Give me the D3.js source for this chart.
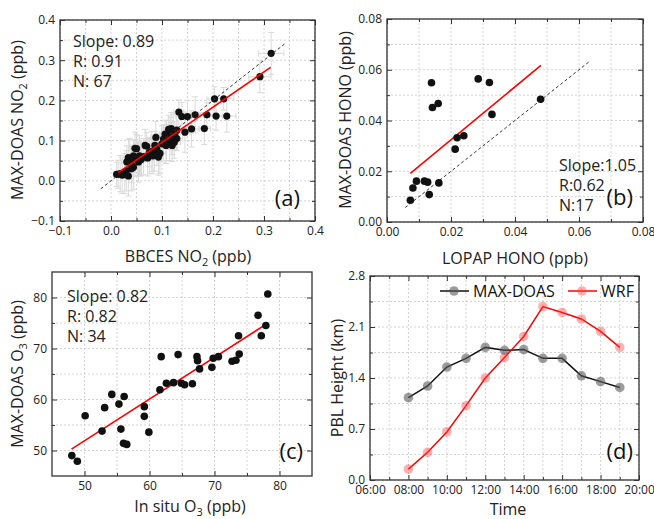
<!DOCTYPE html>
<html>
<head>
<meta charset="utf-8">
<script src="https://cdn.jsdelivr.net/npm/d3@7"></script>
<style>
  body { margin: 0; background: #fff; }
  svg { font-family: "Open Sans", "Noto Sans", sans-serif; }
</style>
</head>
<body>
<script>
// (a) BBCES vs MAX-DOAS NO2
const no2X = [0.314, 0.292, 0.203, 0.221, 0.227, 0.206, 0.188, 0.165, 0.150, 0.139, 0.133, 0.158, 0.183, 0.145,
  0.129, 0.122, 0.116, 0.112, 0.119, 0.109, 0.125, 0.115, 0.129, 0.120, 0.108, 0.103, 0.088, 0.096, 0.093, 0.086,
  0.076, 0.067, 0.070, 0.080, 0.085, 0.072, 0.060, 0.054, 0.050, 0.047, 0.047, 0.044, 0.037, 0.034, 0.031, 0.044,
  0.040, 0.027, 0.018, 0.014, 0.011, 0.034, 0.022, 0.058, 0.064, 0.075, 0.090, 0.100, 0.113, 0.118, 0.056, 0.052,
  0.040, 0.030, 0.124, 0.106, 0.082]
const no2Y = [0.317, 0.259, 0.204, 0.204, 0.161, 0.161, 0.164, 0.164, 0.160, 0.160, 0.171, 0.129, 0.130, 0.121,
  0.126, 0.121, 0.118, 0.109, 0.105, 0.100, 0.113, 0.095, 0.105, 0.088, 0.088, 0.104, 0.108, 0.068, 0.059, 0.088,
  0.063, 0.088, 0.086, 0.073, 0.064, 0.057, 0.055, 0.047, 0.080, 0.081, 0.055, 0.062, 0.055, 0.058, 0.047, 0.034,
  0.040, 0.018, 0.018, 0.016, 0.016, 0.012, 0.014, 0.052, 0.060, 0.070, 0.078, 0.092, 0.128, 0.130, 0.062, 0.058,
  0.030, 0.025, 0.096, 0.116, 0.062]
const no2XErr = [0.025, 0.022, 0.015, 0.020, 0.018, 0.012, 0.015, 0.010, 0.014, 0.012, 0.010, 0.016, 0.012, 0.010,
  0.012, 0.014, 0.010, 0.012, 0.010, 0.012, 0.008, 0.010, 0.012, 0.010, 0.008, 0.012, 0.010, 0.012, 0.010, 0.008,
  0.010, 0.012, 0.008, 0.010, 0.012, 0.010, 0.008, 0.010, 0.008, 0.010, 0.012, 0.008, 0.010, 0.008, 0.010, 0.008,
  0.010, 0.008, 0.010, 0.008, 0.006, 0.010, 0.008, 0.010, 0.008, 0.012, 0.010, 0.012, 0.014, 0.010, 0.008, 0.010,
  0.008, 0.010, 0.012, 0.010, 0.010]
const no2YErr = [0.052, 0.040, 0.030, 0.028, 0.040, 0.035, 0.030, 0.045, 0.040, 0.035, 0.030, 0.045, 0.040, 0.050,
  0.035, 0.045, 0.040, 0.030, 0.040, 0.050, 0.035, 0.045, 0.030, 0.040, 0.045, 0.035, 0.040, 0.050, 0.045, 0.035,
  0.045, 0.040, 0.035, 0.050, 0.040, 0.045, 0.040, 0.050, 0.035, 0.040, 0.045, 0.040, 0.050, 0.045, 0.040, 0.055,
  0.045, 0.050, 0.045, 0.035, 0.030, 0.050, 0.045, 0.040, 0.045, 0.035, 0.040, 0.045, 0.035, 0.040, 0.050, 0.045,
  0.055, 0.050, 0.040, 0.035, 0.045]
const no2Fit = { slope: 0.876, intercept: 0.008, from: 0.014, to: 0.313 }
const no2OneToOne = [-0.02, 0.34]
const no2Stats = ['Slope: 0.89', 'R: 0.91', 'N: 67']

// (b) LOPAP vs MAX-DOAS HONO
const honoX = [0.0073, 0.0081, 0.0092, 0.0117, 0.0127, 0.0132, 0.0162, 0.0139, 0.0142, 0.0160, 0.0213, 0.0219,
  0.0240, 0.0285, 0.0320, 0.0328, 0.0480]
const honoY = [0.0086, 0.0134, 0.0161, 0.0161, 0.0157, 0.0108, 0.0154, 0.0549, 0.0451, 0.0467, 0.0287, 0.0332,
  0.0340, 0.0564, 0.0550, 0.0424, 0.0484]
const honoFit = { slope: 1.044, intercept: 0.0115, from: 0.0073, to: 0.0481 }
const honoOneToOne = [0.0057, 0.063]
const honoStats = ['Slope:1.05', 'R:0.62', 'N:17']

// (c) in situ vs MAX-DOAS O3
const o3X = [48.05, 48.9, 50.1, 52.7, 53.1, 54.2, 55.3, 55.6, 56.1, 56.0, 56.5, 59.2, 59.2, 59.9, 61.6, 61.8, 62.6,
  63.7, 64.4, 64.9, 65.4, 66.6, 67.3, 67.4, 67.7, 69.6, 69.8, 70.6, 72.7, 73.3, 73.8, 73.7, 76.7, 77.2, 77.9, 78.2]
const o3Y = [49.0, 47.9, 56.8, 53.8, 58.4, 61.0, 59.1, 54.2, 60.6, 51.4, 51.2, 58.6, 56.7, 53.6, 61.9, 68.4, 63.2,
  63.3, 68.8, 63.2, 62.9, 63.1, 68.4, 67.6, 66.0, 66.3, 68.1, 68.4, 67.5, 67.7, 68.9, 72.5, 76.5, 72.5, 74.5, 80.7]
const o3Fit = { slope: 0.818, intercept: 11.0, from: 48.0, to: 78.2 }
const o3Stats = ['Slope: 0.82', 'R: 0.82', 'N: 34']

// (d) PBL height
const hours = [8, 9, 10, 11, 12, 13, 14, 15, 16, 17, 18, 19]
const pblMaxDoas = [1.13, 1.29, 1.55, 1.67, 1.82, 1.78, 1.79, 1.67, 1.67, 1.43, 1.35, 1.27]
const pblWrf = [0.15, 0.38, 0.66, 1.02, 1.40, 1.68, 1.97, 2.38, 2.30, 2.21, 2.04, 1.82]

const width = 654, height = 519

const svg = d3.select('body').append('svg')
  .attr('width', width)
  .attr('height', height)

// draws frame, grid, inward ticks on all four sides and tick labels
function makePanel(cfg) {
  const x = d3.scaleLinear().domain(cfg.xDomain).range([cfg.left, cfg.right])
  const y = d3.scaleLinear().domain(cfg.yDomain).range([cfg.bottom, cfg.top])
  const g = svg.append('g')

  const xGrid = cfg.xMajor.concat(cfg.xMinor)
  const yGrid = cfg.yMajor.concat(cfg.yMinor)
  g.append('g').selectAll('line').data(xGrid).enter().append('line')
    .attr('x1', d => x(d)).attr('x2', d => x(d))
    .attr('y1', cfg.top).attr('y2', cfg.bottom)
    .attr('stroke', '#c8c8c8').attr('stroke-width', 0.8).attr('stroke-dasharray', '2,2')
  g.append('g').selectAll('line').data(yGrid).enter().append('line')
    .attr('y1', d => y(d)).attr('y2', d => y(d))
    .attr('x1', cfg.left).attr('x2', cfg.right)
    .attr('stroke', '#c8c8c8').attr('stroke-width', 0.8).attr('stroke-dasharray', '2,2')

  const axes = [
    [d3.axisBottom(x), 'translate(0,' + cfg.bottom + ')', cfg.xMajor, cfg.xMinor, cfg.xFormat],
    [d3.axisTop(x), 'translate(0,' + cfg.top + ')', cfg.xMajor, cfg.xMinor, null],
    [d3.axisLeft(y), 'translate(' + cfg.left + ',0)', cfg.yMajor, cfg.yMinor, cfg.yFormat],
    [d3.axisRight(y), 'translate(' + cfg.right + ',0)', cfg.yMajor, cfg.yMinor, null]
  ]
  for (const a of axes) {
    const major = a[0].tickValues(a[2]).tickSize(-5).tickPadding(5)
      .tickFormat(a[4] ? a[4] : () => '')
    const ga = g.append('g').attr('transform', a[1]).call(major)
    ga.select('.domain').remove()
    ga.selectAll('text').attr('font-size', 12).attr('fill', '#222')
      .attr('font-family', '"Open Sans", sans-serif')
    ga.selectAll('line').attr('stroke', '#333')
    const gm = g.append('g').attr('transform', a[1])
      .call(a[0].tickValues(a[3]).tickSize(-3).tickFormat(() => ''))
    gm.select('.domain').remove()
    gm.selectAll('line').attr('stroke', '#333')
  }

  g.append('rect')
    .attr('x', cfg.left).attr('y', cfg.top)
    .attr('width', cfg.right - cfg.left).attr('height', cfg.bottom - cfg.top)
    .attr('fill', 'none').attr('stroke', '#333').attr('stroke-width', 1.3)

  return { x, y, g }
}

// axis title with optional subscript pieces: [[text, isSub], ...]
function title(parts, tx, ty, rotate) {
  const t = svg.append('text')
    .attr('font-size', 16).attr('fill', '#222')
    .attr('text-anchor', 'middle')
    .attr('transform', 'translate(' + tx + ',' + ty + ')' + (rotate ? ' rotate(-90)' : ''))
  for (const p of parts) {
    const s = t.append('tspan').text(p[0])
    if (p[1]) s.attr('font-size', 11).attr('dy', 4)
    else if (t.selectAll('tspan').size() > 1) s.attr('dy', -4)
  }
}

function stats(lines, tx, ty) {
  svg.append('g').selectAll('text').data(lines).enter().append('text')
    .attr('x', tx).attr('y', (d, i) => ty + i * 20)
    .attr('font-size', 16).attr('fill', '#222')
    .text(d => d)
}

function label(s, tx, ty) {
  svg.append('text').attr('x', tx).attr('y', ty)
    .attr('text-anchor', 'end').attr('font-size', 22).attr('fill', '#111')
    .text(s)
}

function fitLine(p, fit) {
  p.g.append('line')
    .attr('x1', p.x(fit.from)).attr('y1', p.y(fit.slope * fit.from + fit.intercept))
    .attr('x2', p.x(fit.to)).attr('y2', p.y(fit.slope * fit.to + fit.intercept))
    .attr('stroke', '#ff0000').attr('stroke-width', 1.6)
}

function oneToOne(p, ends) {
  p.g.append('line')
    .attr('x1', p.x(ends[0])).attr('y1', p.y(ends[0]))
    .attr('x2', p.x(ends[1])).attr('y2', p.y(ends[1]))
    .attr('stroke', '#333').attr('stroke-width', 1).attr('stroke-dasharray', '3,2.5')
}

function dots(p, xs, ys, r) {
  p.g.append('g').selectAll('circle').data(xs).enter().append('circle')
    .attr('cx', d => p.x(d)).attr('cy', (d, i) => p.y(ys[i]))
    .attr('r', r).attr('fill', '#111')
}

// ---- (a)
const pa = makePanel({
  left: 60, right: 315, top: 20, bottom: 221,
  xDomain: [-0.1, 0.4], yDomain: [-0.1, 0.4],
  xMajor: [-0.1, 0, 0.1, 0.2, 0.3, 0.4], xMinor: [-0.05, 0.05, 0.15, 0.25, 0.35],
  yMajor: [-0.1, 0, 0.1, 0.2, 0.3, 0.4], yMinor: [-0.05, 0.05, 0.15, 0.25, 0.35],
  xFormat: d3.format('.1f'), yFormat: d3.format('.1f')
})
// error bars
const eb = pa.g.append('g').attr('stroke', '#d9d9d9').attr('stroke-width', 1)
no2X.forEach(function(v, i) {
  const cx = pa.x(v), cy = pa.y(no2Y[i])
  const x0 = pa.x(v - no2XErr[i]), x1 = pa.x(v + no2XErr[i])
  const y0 = pa.y(no2Y[i] - no2YErr[i]), y1 = pa.y(no2Y[i] + no2YErr[i])
  eb.append('line').attr('x1', cx).attr('x2', cx).attr('y1', y0).attr('y2', y1)
  eb.append('line').attr('x1', cx - 3).attr('x2', cx + 3).attr('y1', y0).attr('y2', y0)
  eb.append('line').attr('x1', cx - 3).attr('x2', cx + 3).attr('y1', y1).attr('y2', y1)
  eb.append('line').attr('x1', x0).attr('x2', x1).attr('y1', cy).attr('y2', cy)
  eb.append('line').attr('x1', x0).attr('x2', x0).attr('y1', cy - 3).attr('y2', cy + 3)
  eb.append('line').attr('x1', x1).attr('x2', x1).attr('y1', cy - 3).attr('y2', cy + 3)
})
dots(pa, no2X, no2Y, 3.6)
oneToOne(pa, no2OneToOne)
fitLine(pa, no2Fit)
stats(no2Stats, 73, 47)
label('(a)', 300, 206)
title([['MAX-DOAS NO'], ['2', true], [' (ppb)']], 23, 120, true)
title([['BBCES NO'], ['2', true], [' (ppb)']], 188, 262, false)

// ---- (b)
const pb = makePanel({
  left: 387, right: 643, top: 19, bottom: 222,
  xDomain: [0, 0.08], yDomain: [0, 0.08],
  xMajor: [0, 0.02, 0.04, 0.06, 0.08], xMinor: [0.01, 0.03, 0.05, 0.07],
  yMajor: [0, 0.02, 0.04, 0.06, 0.08], yMinor: [0.01, 0.03, 0.05, 0.07],
  xFormat: d3.format('.2f'), yFormat: d3.format('.2f')
})
oneToOne(pb, honoOneToOne)
fitLine(pb, honoFit)
dots(pb, honoX, honoY, 3.8)
stats(honoStats, 559, 171)
label('(b)', 633, 205)
title([['MAX-DOAS HONO (ppb)']], 351, 120, true)
title([['LOPAP HONO (ppb)']], 515, 264, false)

// ---- (c)
const pc = makePanel({
  left: 52, right: 312, top: 272, bottom: 476,
  xDomain: [45, 85], yDomain: [45, 85],
  xMajor: [50, 60, 70, 80], xMinor: [55, 65, 75],
  yMajor: [50, 60, 70, 80], yMinor: [55, 65, 75],
  xFormat: d3.format('d'), yFormat: d3.format('d')
})
fitLine(pc, o3Fit)
dots(pc, o3X, o3Y, 3.8)
stats(o3Stats, 67, 302)
label('(c)', 303, 459)
title([['MAX-DOAS O'], ['3', true], [' (ppb)']], 23, 374, true)
title([['In situ O'], ['3', true], [' (ppb)']], 190, 512, false)

// ---- (d)
const pd = makePanel({
  left: 370, right: 639, top: 276, bottom: 480,
  xDomain: [6, 20], yDomain: [0, 2.8],
  xMajor: [6, 8, 10, 12, 14, 16, 18, 20], xMinor: [7, 9, 11, 13, 15, 17, 19],
  yMajor: [0, 0.7, 1.4, 2.1, 2.8], yMinor: [0.35, 1.05, 1.75, 2.45],
  xFormat: h => String(h).padStart(2, '0') + ':00', yFormat: d3.format('.1f')
})
const series = [
  { values: pblMaxDoas, line: '#111', marker: 'rgba(90,90,90,0.6)' },
  { values: pblWrf, line: '#ff0000', marker: 'rgba(255,60,60,0.4)' }
]
for (const s of series) {
  const line = d3.line().x((d, i) => pd.x(hours[i])).y(d => pd.y(d))
  pd.g.append('path').datum(s.values)
    .attr('d', line).attr('fill', 'none')
    .attr('stroke', s.line).attr('stroke-width', 1.5)
  pd.g.append('g').selectAll('circle').data(s.values).enter().append('circle')
    .attr('cx', (d, i) => pd.x(hours[i])).attr('cy', d => pd.y(d))
    .attr('r', 4.8).attr('fill', s.marker)
}
// legend
const legend = [
  { name: 'MAX-DOAS', x: 440, s: series[0] },
  { name: 'WRF', x: 568, s: series[1] }
]
for (const l of legend) {
  svg.append('line').attr('x1', l.x).attr('x2', l.x + 29).attr('y1', 291).attr('y2', 291)
    .attr('stroke', l.s.line).attr('stroke-width', 1.5)
  svg.append('circle').attr('cx', l.x + 14).attr('cy', 291).attr('r', 4.8).attr('fill', l.s.marker)
  svg.append('text').attr('x', l.x + 33).attr('y', 297).attr('font-size', 16).attr('fill', '#111').text(l.name)
}
label('(d)', 633, 459)
title([['PBL Height (km)']], 343, 378, true)
title([['Time']], 508, 515, false)
</script>
</body>
</html>
